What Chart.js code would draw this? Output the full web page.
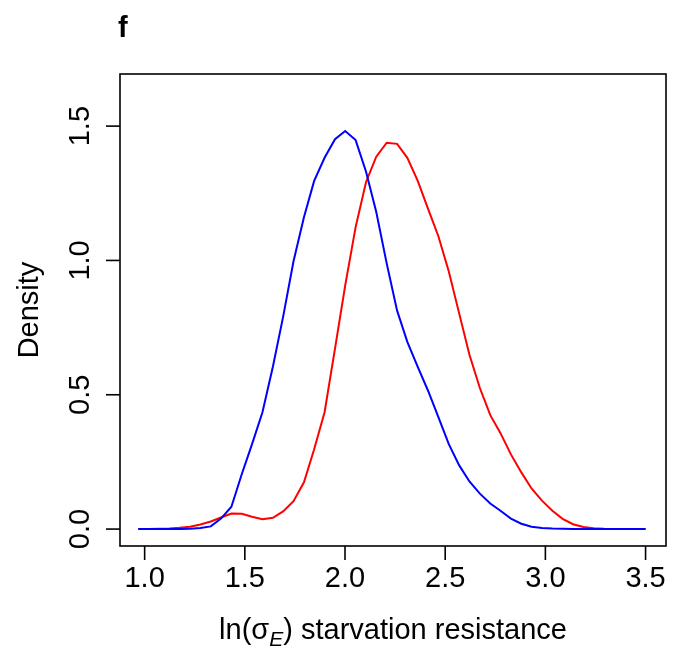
<!DOCTYPE html>
<html>
<head>
<meta charset="utf-8">
<script src="https://cdn.jsdelivr.net/npm/chart.js@4/dist/chart.umd.min.js"></script>
<style>
    body { margin: 0; background: #fff; }
    #wrap { width: 680px; height: 646px; }
</style>
</head>
<body>
<div id="wrap"><canvas id="densityChart" width="680" height="646"></canvas></div>
<script>
// grid of ln(sigma_E) values where the densities are evaluated
const xValues = [
    0.968, 1.020, 1.071, 1.123, 1.175, 1.226, 1.278, 1.330, 1.381, 1.433,
    1.485, 1.536, 1.588, 1.640, 1.691, 1.743, 1.795, 1.846, 1.898, 1.950,
    2.001, 2.053, 2.105, 2.156, 2.208, 2.260, 2.311, 2.363, 2.415, 2.466,
    2.518, 2.570, 2.621, 2.673, 2.725, 2.776, 2.828, 2.880, 2.931, 2.983,
    3.035, 3.086, 3.138, 3.190, 3.241, 3.293, 3.345, 3.396, 3.448, 3.500
];

const blueDensity = [
    0.000, 0.000, 0.000, 0.000, 0.000, 0.001, 0.004, 0.010, 0.039, 0.083,
    0.205, 0.316, 0.435, 0.604, 0.790, 0.997, 1.161, 1.296, 1.382, 1.451,
    1.482, 1.448, 1.330, 1.180, 0.989, 0.813, 0.697, 0.604, 0.514, 0.417,
    0.316, 0.237, 0.177, 0.132, 0.095, 0.068, 0.039, 0.020, 0.009, 0.004,
    0.002, 0.001, 0.000, 0.000, 0.000, 0.000, 0.000, 0.000, 0.000, 0.000
];

const redDensity = [
    0.000, 0.000, 0.001, 0.002, 0.005, 0.009, 0.017, 0.028, 0.043, 0.058,
    0.057, 0.046, 0.037, 0.042, 0.066, 0.104, 0.174, 0.297, 0.435, 0.672,
    0.907, 1.124, 1.292, 1.386, 1.438, 1.434, 1.382, 1.296, 1.191, 1.090,
    0.959, 0.802, 0.649, 0.525, 0.424, 0.357, 0.278, 0.211, 0.151, 0.106,
    0.068, 0.038, 0.018, 0.008, 0.003, 0.001, 0.000, 0.000, 0.000, 0.000
];

const xTicks = [1.0, 1.5, 2.0, 2.5, 3.0, 3.5];
const yTicks = [0.0, 0.5, 1.0, 1.5];

const FONT = '"Liberation Sans", Arial, Helvetica, sans-serif';

function toPoints(ys) {
    return xValues.map((x, i) => ({ x: x, y: ys[i] }));
}

// R style box, axes and labels
const rAxes = {
    id: 'rAxes',
    afterDraw(chart) {
        const ctx = chart.ctx;
        const area = chart.chartArea;
        const xs = chart.scales.x;
        const ys = chart.scales.y;

        ctx.save();
        ctx.strokeStyle = '#000';
        ctx.fillStyle = '#000';
        ctx.lineWidth = 1.6;
        ctx.strokeRect(area.left, area.top, area.right - area.left, area.bottom - area.top);

        // x axis
        ctx.font = '29px ' + FONT;
        ctx.textAlign = 'center';
        ctx.textBaseline = 'middle';
        xTicks.forEach(v => {
            const px = xs.getPixelForValue(v);
            ctx.beginPath();
            ctx.moveTo(px, area.bottom);
            ctx.lineTo(px, area.bottom + 14);
            ctx.stroke();
            ctx.fillText(v.toFixed(1), px, 579);
        });

        // y axis
        yTicks.forEach(v => {
            const py = ys.getPixelForValue(v);
            ctx.beginPath();
            ctx.moveTo(area.left, py);
            ctx.lineTo(area.left - 14, py);
            ctx.stroke();
            ctx.save();
            ctx.translate(81, py);
            ctx.rotate(-Math.PI / 2);
            ctx.fillText(v.toFixed(1), 0, 0);
            ctx.restore();
        });

        // y title
        ctx.save();
        ctx.translate(30, (area.top + area.bottom) / 2);
        ctx.rotate(-Math.PI / 2);
        ctx.fillText('Density', 0, 0);
        ctx.restore();

        // x title with subscript
        const parts = [
            { t: 'ln(\u03C3', f: '29px ' + FONT, dy: 0 },
            { t: 'E', f: 'italic 21px ' + FONT, dy: 7 },
            { t: ') starvation resistance', f: '29px ' + FONT, dy: 0 }
        ];
        let total = 0;
        parts.forEach(p => { ctx.font = p.f; p.w = ctx.measureText(p.t).width; total += p.w; });
        let cx = (area.left + area.right) / 2 - total / 2;
        ctx.textAlign = 'left';
        ctx.textBaseline = 'alphabetic';
        parts.forEach(p => {
            ctx.font = p.f;
            ctx.fillText(p.t, cx, 639 + p.dy);
            cx += p.w;
        });

        // panel letter
        ctx.font = 'bold 29px ' + FONT;
        ctx.fillText('f', 118, 37);
        ctx.restore();
    }
};

document.addEventListener('DOMContentLoaded', function () {
    const ctx = document.getElementById('densityChart').getContext('2d');
    new Chart(ctx, {
        type: 'line',
        data: {
            datasets: [
                {
                    label: 'blue',
                    data: toPoints(blueDensity),
                    borderColor: '#0000ff',
                    borderWidth: 2,
                    pointRadius: 0,
                    tension: 0,
                    fill: false,
                    order: 0
                },
                {
                    label: 'red',
                    data: toPoints(redDensity),
                    borderColor: '#ff0000',
                    borderWidth: 2,
                    pointRadius: 0,
                    tension: 0,
                    fill: false,
                    order: 1
                }
            ]
        },
        options: {
            responsive: false,
            animation: false,
            layout: { padding: { left: 120, top: 74, right: 14, bottom: 100 } },
            scales: {
                x: { type: 'linear', min: 0.877, max: 3.602, display: false },
                y: { type: 'linear', min: -0.063, max: 1.694, display: false }
            },
            plugins: {
                legend: { display: false },
                tooltip: { enabled: false }
            }
        },
        plugins: [rAxes]
    });
});
</script>
</body>
</html>
